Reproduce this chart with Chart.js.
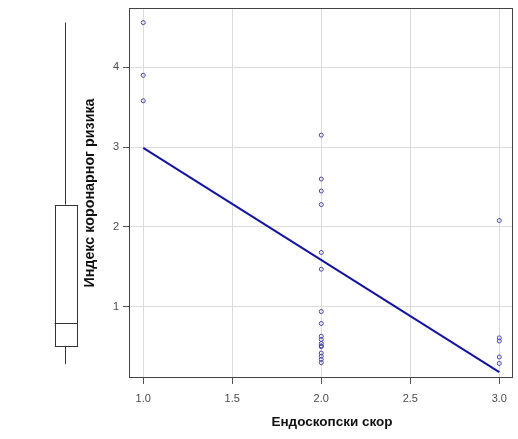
<!DOCTYPE html>
<html>
<head>
<meta charset="utf-8">
<script src="https://cdn.jsdelivr.net/npm/chart.js@4.4.0/dist/chart.umd.min.js"></script>
<style>
  html, body { margin: 0; padding: 0; background: #fff; }
  #chart { display: block; }
</style>
</head>
<body>
<canvas id="chart" width="518" height="439"></canvas>
<script>
// observed points, grouped by endoscopic score
const scoreOneY = [4.56, 3.9, 3.58];
const scoreTwoY = [3.15, 2.6, 2.45, 2.28, 1.68, 1.47, 0.94, 0.79, 0.63, 0.59, 0.54, 0.51, 0.5, 0.42, 0.38, 0.34, 0.3];
const scoreThreeY = [2.08, 0.61, 0.57, 0.37, 0.29];

// fitted regression line
const fitX = [1, 3];
const fitY = [2.99, 0.18];

// boxplot of the y values (whisker ends, then q1 / median / q3)
const boxWhiskers = [0.28, 4.56];
const boxQuartiles = [0.51, 0.79, 2.28];

const xTicks = [1.0, 1.5, 2.0, 2.5, 3.0];
const yTicks = [1, 2, 3, 4];

const xLabel = "Ендоскопски скор";
const yLabel = "Индекс коронарног ризика";

function toPoints(x, ys) {
  return ys.map((y) => ({ x: x, y: y }));
}

const scatterData = []
  .concat(toPoints(1, scoreOneY))
  .concat(toPoints(2, scoreTwoY))
  .concat(toPoints(3, scoreThreeY));

const fitData = fitX.map((x, i) => ({ x: x, y: fitY[i] }));

const framePlugin = {
  id: "frameAndBox",
  afterDraw(chart) {
    const ctx = chart.ctx;
    const area = chart.chartArea;
    const yScale = chart.scales.y;
    ctx.save();
    // plot frame
    ctx.strokeStyle = "#444";
    ctx.lineWidth = 1;
    ctx.strokeRect(area.left + 0.5, area.top + 0.5, area.right - area.left - 1, area.bottom - area.top - 1);

    // marginal boxplot
    const cx = 65.5;
    const half = 11;
    const pMin = yScale.getPixelForValue(boxWhiskers[0]);
    const pMax = yScale.getPixelForValue(boxWhiskers[1]);
    const pQ1 = yScale.getPixelForValue(boxQuartiles[0]);
    const pMed = yScale.getPixelForValue(boxQuartiles[1]);
    const pQ3 = yScale.getPixelForValue(boxQuartiles[2]);
    ctx.strokeStyle = "#333";
    ctx.beginPath();
    ctx.moveTo(cx, pMax);
    ctx.lineTo(cx, pQ3);
    ctx.moveTo(cx, pQ1);
    ctx.lineTo(cx, pMin);
    ctx.stroke();
    ctx.strokeRect(Math.round(cx - half) + 0.5, Math.round(pQ3) + 0.5, half * 2, Math.round(pQ1 - pQ3));
    ctx.beginPath();
    ctx.moveTo(cx - half, Math.round(pMed) + 0.5);
    ctx.lineTo(cx + half + 1, Math.round(pMed) + 0.5);
    ctx.stroke();

    // x axis title, sits a bit right of the plot centre like the original
    ctx.fillStyle = "#111";
    ctx.font = "bold 13.5px 'Liberation Sans'";
    ctx.textAlign = "center";
    ctx.textBaseline = "middle";
    ctx.fillText(xLabel, 332, 422);
    ctx.restore();
  },
};

const ctx = document.getElementById("chart").getContext("2d");

const chart = new Chart(ctx, {
  type: "scatter",
  data: {
    datasets: [
      {
        label: "points",
        data: scatterData,
        pointStyle: "circle",
        pointRadius: 2,
        borderWidth: 1,
        borderColor: "#4646a8",
        backgroundColor: "rgba(0,0,0,0)",
        order: 2,
      },
      {
        label: "fit",
        type: "line",
        data: fitData,
        showLine: true,
        pointRadius: 0,
        borderColor: "#1414a0",
        borderWidth: 2,
        fill: false,
        order: 1,
      },
    ],
  },
  options: {
    responsive: false,
    animation: false,
    layout: { padding: { left: 0, right: 3, top: 8, bottom: 0 } },
    plugins: {
      legend: { display: false },
      tooltip: { enabled: false },
    },
    scales: {
      x: {
        type: "linear",
        min: 0.92,
        max: 3.077,
        afterBuildTicks: (scale) => {
          scale.ticks = xTicks.map((v) => ({ value: v }));
        },
        afterFit: (scale) => {
          scale.height = 61;
          scale.paddingLeft = 0;
          scale.paddingRight = 0;
        },
        ticks: {
          callback: (v) => Number(v).toFixed(1),
          color: "#4a4a4a",
          font: { family: "Liberation Sans", size: 11 },
          padding: 8,
          maxRotation: 0,
        },
        grid: {
          color: "#dcdcdc",
          tickColor: "#555",
          tickLength: 6,
        },
        border: { display: false },
        title: { display: false },
      },
      y: {
        type: "linear",
        min: 0.107,
        max: 4.743,
        afterBuildTicks: (scale) => {
          scale.ticks = yTicks.map((v) => ({ value: v }));
        },
        afterFit: (scale) => {
          scale.width = 129;
          scale.paddingTop = 0;
          scale.paddingBottom = 0;
        },
        ticks: {
          callback: (v) => String(v),
          color: "#4a4a4a",
          font: { family: "Liberation Sans", size: 11 },
          padding: 4,
        },
        grid: {
          color: "#dcdcdc",
          tickColor: "#555",
          tickLength: 6,
        },
        border: { display: false },
        title: {
          display: true,
          text: yLabel,
          color: "#111",
          font: { family: "Liberation Sans", size: 14.3, weight: "bold" },
          padding: { top: 81, bottom: 0 },
        },
      },
    },
  },
  plugins: [framePlugin],
});
</script>
</body>
</html>
